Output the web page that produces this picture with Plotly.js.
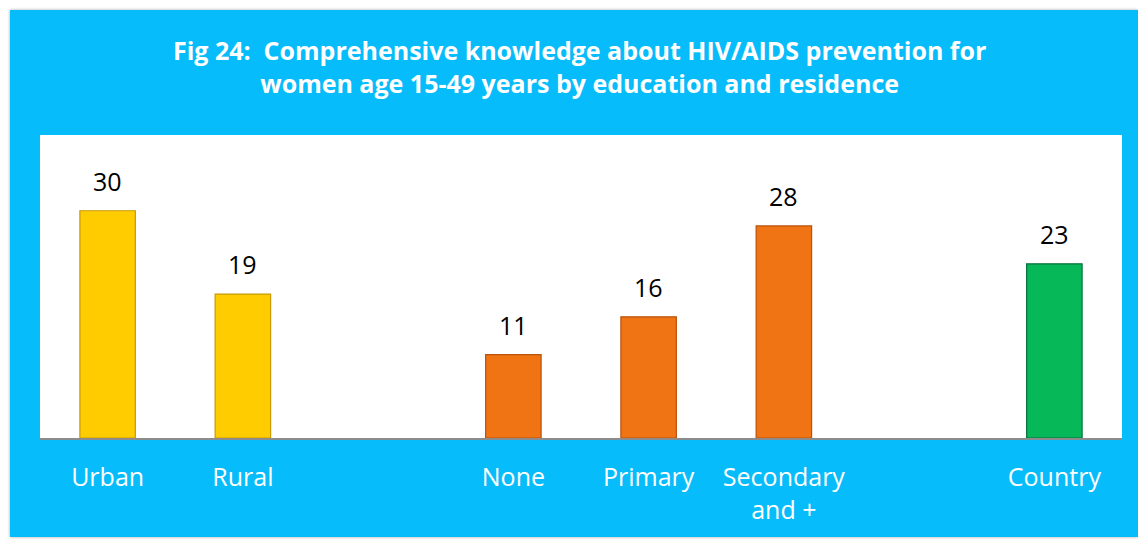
<!DOCTYPE html>
<html>
<head>
<meta charset="utf-8">
<script src="https://cdn.plot.ly/plotly-3.0.1.min.js"></script>
<style>
html,body{margin:0;padding:0;background:#ffffff;width:1138px;height:542px;overflow:hidden;}
#frame{position:absolute;left:10px;top:10px;width:1128px;height:527px;background:#07BCFA;box-shadow:0 0 3px rgba(0,0,0,0.35);}
#chart{position:absolute;left:0;top:0;width:1128px;height:527px;}
</style>
</head>
<body>
<div id="frame"><div id="chart"></div></div>
<script>
var categories = ['Urban', 'Rural', ' ', 'None', 'Primary', 'Secondary<br>and +', '  ', 'Country'];
var values = [30, 19, null, 11, 16, 28, null, 23];
var barColors = ['#FFCC00', '#FFCC00', '#FFFFFF', '#F07314', '#F07314', '#F07314', '#FFFFFF', '#07B859'];
var edgeColors = ['#C99A00', '#C99A00', '#FFFFFF', '#B9520A', '#B9520A', '#B9520A', '#FFFFFF', '#04703A'];
var titleText = 'Fig 24:  Comprehensive knowledge about HIV/AIDS prevention for<br>women age 15-49 years by education and residence';

var trace = {
  type: 'bar',
  x: categories,
  y: values,
  marker: { color: barColors, line: { color: edgeColors, width: 1.2 } },
  hoverinfo: 'none'
};

var annotations = [];
categories.forEach(function(c, i){
  if (values[i] === null) return;
  annotations.push({
    x: c, y: values[i], xref: 'x', yref: 'y',
    text: String(values[i]), showarrow: false,
    yanchor: 'middle', yshift: 30,
    font: { family: 'Open Sans, sans-serif', size: 25, color: '#000000' }
  });
});

var layout = {
  width: 1128,
  height: 527,
  paper_bgcolor: '#07BCFA',
  plot_bgcolor: '#FFFFFF',
  margin: { l: 30, r: 16, t: 125, b: 99 },
  bargap: 0.59,
  showlegend: false,
  annotations: annotations,
  title: {
    text: titleText,
    font: { family: 'Open Sans, sans-serif', size: 25, color: '#FFFFFF', weight: 'bold' },
    x: 0.505, xanchor: 'center',
    y: 0.905, yanchor: 'middle'
  },
  xaxis: {
    type: 'category',
    categoryorder: 'array',
    categoryarray: categories,
    showgrid: false,
    zeroline: false,
    showline: true,
    linecolor: '#8C8C8C',
    linewidth: 2,
    ticks: 'outside',
    ticklen: 16,
    tickcolor: 'rgba(0,0,0,0)',
    tickfont: { family: 'Open Sans, sans-serif', size: 25, color: '#FFFFFF' },
    fixedrange: true
  },
  yaxis: {
    range: [0, 40],
    visible: false,
    showgrid: false,
    zeroline: false,
    fixedrange: true
  }
};

Plotly.newPlot('chart', [trace], layout, { displayModeBar: false, staticPlot: true });
</script>
</body>
</html>
